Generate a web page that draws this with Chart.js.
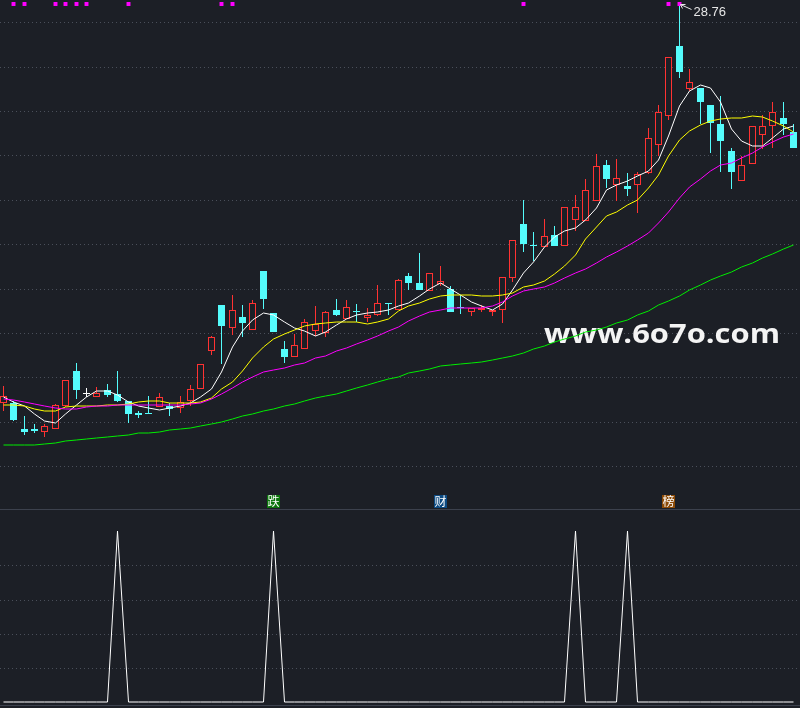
<!DOCTYPE html>
<html><head><meta charset="utf-8">
<script src="https://cdn.jsdelivr.net/npm/chart.js@4/dist/chart.umd.min.js"></script>
<style>
html,body{margin:0;padding:0;background:#1c1f26;overflow:hidden;}
#wrap{position:relative;width:800px;height:708px;background:#1c1f26;}
#c1{position:absolute;left:0;top:0;}
#c2{position:absolute;left:0;top:510px;}
.sep{position:absolute;left:0;width:800px;height:1px;background:#3c414d;}
</style></head><body>
<div id="wrap">
<canvas id="c1" width="800" height="509"></canvas>
<div class="sep" style="top:509px"></div>
<canvas id="c2" width="800" height="198"></canvas>
<div class="sep" style="top:705px"></div>
</div>
<script>
// ---------- data ----------
const opens  = [20.79,20.79,20.26,20.26,20.21,20.27,20.71,21.42,20.97,20.89,
  21.03,20.96,20.82,20.59,20.56,20.69,20.71,20.67,20.83,21.05,
  21.83,22.74,22.29,22.50,22.25,23.42,22.58,21.86,21.71,21.87,
  22.21,22.17,22.65,22.47,22.62,22.49,22.53,22.79,22.64,23.32,
  23.17,23.01,23.16,23.07,22.68,22.59,22.65,22.60,22.64,23.29,
  24.36,23.95,23.89,24.15,23.91,24.45,24.43,24.83,25.54,25.15,
  25.13,25.15,25.37,25.95,26.51,27.92,27.05,27.09,26.75,26.35,
  25.82,25.23,25.55,26.15,26.33,26.49,26.19];
const highs  = [21.12,20.82,20.52,20.36,20.35,20.76,21.24,21.58,21.08,21.10,
  21.16,21.42,20.83,20.62,20.92,20.99,20.79,20.92,21.14,21.55,
  22.12,22.74,22.94,22.74,22.84,23.42,22.58,22.02,22.16,22.47,
  22.72,22.63,22.85,22.84,22.76,22.67,23.14,22.79,23.27,23.37,
  23.79,23.39,23.52,23.13,22.94,22.67,22.75,22.64,23.31,24.04,
  24.84,24.19,24.46,24.32,24.69,24.94,25.27,25.76,25.65,25.66,
  25.37,25.39,26.29,26.74,27.69,28.76,27.47,27.09,26.75,26.92,
  25.87,25.71,26.33,26.54,26.81,26.81,26.35];
const lows   = [20.63,20.43,20.15,20.19,20.11,20.27,20.70,20.86,20.89,20.89,
  20.89,20.81,20.37,20.49,20.55,20.69,20.51,20.59,20.71,21.05,
  21.75,21.57,22.15,22.11,22.25,22.66,22.19,21.59,21.71,21.85,
  22.12,22.11,22.51,22.47,22.41,22.41,22.51,22.54,22.64,23.03,
  23.03,23.01,23.13,22.61,22.55,22.51,22.61,22.51,22.37,23.20,
  23.81,23.63,23.89,23.93,23.91,24.21,24.43,24.83,25.07,24.83,
  24.91,24.59,25.36,25.71,26.45,27.29,27.01,26.35,25.79,25.39,
  25.05,25.21,25.55,25.85,25.87,26.14,25.87];
const closes = [20.93,20.44,20.21,20.22,20.32,20.75,21.24,21.03,20.97,20.99,
  20.95,20.83,20.55,20.54,20.55,20.89,20.66,20.81,21.05,21.55,
  22.11,22.32,22.65,22.37,22.79,22.86,22.19,21.71,21.95,22.39,
  22.36,22.59,22.54,22.69,22.59,22.53,22.79,22.77,23.24,23.17,
  23.03,23.39,23.22,22.61,22.67,22.67,22.67,22.64,23.31,24.04,
  23.97,23.91,24.13,23.93,24.69,24.69,25.03,25.52,25.27,25.29,
  25.05,25.35,26.09,26.61,27.69,27.39,27.19,26.81,26.37,26.01,
  25.39,25.54,26.33,26.33,26.59,26.36,25.87];
const ma5  = [20.89,20.81,20.71,20.56,20.43,20.39,20.56,20.73,20.91,21.01,
  21.01,20.95,20.81,20.71,20.67,20.65,20.67,20.72,20.79,20.91,
  21.07,21.41,21.91,22.21,22.44,22.57,22.53,22.39,22.29,22.22,
  22.13,22.19,22.34,22.47,22.54,22.57,22.61,22.65,22.71,22.79,
  22.93,23.05,23.17,23.07,22.94,22.81,22.71,22.64,22.76,23.04,
  23.37,23.61,23.89,24.09,24.21,24.29,24.44,24.67,25.04,25.15,
  25.23,25.33,25.42,25.65,26.12,26.71,27.01,27.14,27.09,26.81,
  26.27,26.01,25.93,25.93,26.09,26.27,26.32];
const ma10 = [20.73,20.73,20.72,20.66,20.62,20.63,20.69,20.71,20.72,20.72,
  20.73,20.74,20.76,20.81,20.83,20.83,20.79,20.79,20.79,20.81,
  20.87,21.05,21.21,21.43,21.67,21.91,22.07,22.16,22.25,22.33,
  22.36,22.37,22.39,22.41,22.41,22.36,22.41,22.47,22.63,22.72,
  22.79,22.85,22.93,22.94,22.94,22.94,22.93,22.93,22.95,22.99,
  23.11,23.14,23.23,23.35,23.51,23.74,24.05,24.31,24.52,24.61,
  24.73,24.84,25.09,25.34,25.71,26.03,26.21,26.34,26.43,26.47,
  26.49,26.49,26.52,26.50,26.43,26.32,26.19];
const ma20 = [20.85,20.84,20.81,20.76,20.71,20.67,20.66,20.66,20.69,20.71,
  20.72,20.73,20.73,20.73,20.74,20.75,20.75,20.75,20.76,20.79,
  20.86,20.97,21.09,21.20,21.31,21.40,21.45,21.49,21.53,21.59,
  21.67,21.73,21.82,21.89,21.97,22.05,22.13,22.21,22.31,22.43,
  22.51,22.59,22.64,22.67,22.67,22.67,22.68,22.71,22.80,22.93,
  23.01,23.05,23.10,23.18,23.29,23.37,23.47,23.59,23.71,23.81,
  23.91,24.03,24.18,24.37,24.60,24.87,25.10,25.27,25.43,25.53,
  25.59,25.68,25.79,25.89,26.00,26.11,26.16];
const ma60 = [19.94,19.95,19.95,19.95,19.96,19.98,20.01,20.03,20.06,20.09,
  20.11,20.13,20.15,20.17,20.19,20.21,20.24,20.26,20.28,20.32,
  20.35,20.40,20.46,20.52,20.57,20.62,20.66,20.72,20.77,20.82,
  20.87,20.92,20.97,21.02,21.08,21.14,21.20,21.26,21.31,21.37,
  21.43,21.47,21.51,21.54,21.56,21.59,21.61,21.65,21.68,21.73,
  21.79,21.86,21.93,22.00,22.07,22.13,22.19,22.25,22.31,22.37,
  22.44,22.53,22.63,22.73,22.83,22.93,23.04,23.15,23.24,23.32,
  23.41,23.50,23.58,23.67,23.76,23.86,23.95];
const signalDays  = [1,2,5,6,7,8,12,21,22,50,64,65];
const signalLevel = 28.77;
const indicator = [0,0,0,0,0,0,0,0,0,0, 0,5,0,0,0,0,0,0,0,0,
  0,0,0,0,0,0,5,0,0,0, 0,0,0,0,0,0,0,0,0,0,
  0,0,0,0,0,0,0,0,0,0, 0,0,0,0,0,5,0,0,0,0,
  5,0,0,0,0,0,0,0,0,0, 0,0,0,0,0,0,0];
const tagDays  = [26,42,64];
const tagTexts = ['跌','财','榜'];
const tagLevel = 18.82;
const priceGrid = [28.396,27.508,26.62,25.732,24.844,23.956,23.068,22.18,21.292,20.404,19.516];
const subGrid = [1,2,3,4];
const watermark = 'www.6o7o.com';

// ---------- pixel-snapping scales (library linear scales, rounded to whole pixels) ----------
class SnapX extends Chart.LinearScale {
  static id = 'snapX';
  static defaults = Chart.LinearScale.defaults;
  getPixelForValue(v, i){ return Math.floor(super.getPixelForValue(v, i)) + 0.5; }
}
class SnapY extends Chart.LinearScale {
  static id = 'snapY';
  static defaults = Chart.LinearScale.defaults;
  getPixelForValue(v, i){ return Math.round(super.getPixelForValue(v, i)); }
}
Chart.register(SnapX, SnapY);

// ---------- styles ----------
const BG='#1c1f26', RED='#ff3232', CYAN='#54fcfc', GRID='#4a4f5a';
const tagColors=['#0b740b','#0c4a82','#8c4a06'];
const days = opens.map((_,i)=>i);
const dir = days.map(i=> closes[i]>opens[i]?1:(closes[i]<opens[i]?-1:0));
const lineColor = dir.map(d=> d>0?RED:(d<0?CYAN:'#ffffff'));
const fillColor = dir.map(d=> d>0?BG:(d<0?CYAN:'#ffffff'));
const XMIN=-0.317, XMAX=76.606;

function xScale(){return {type:'snapX',min:XMIN,max:XMAX,offset:false,display:false,grid:{display:false}};}
function ser(arr){return days.map(i=>({x:i,y:arr[i]}));}
function lineDs(arr,color){return {type:'line',data:ser(arr),borderColor:color,borderWidth:1,pointRadius:0,pointHoverRadius:0,tension:0,order:0};}

const annot = {
  id:'annot',
  beforeDatasetsDraw(chart){
    const ctx=chart.ctx;
    ctx.save();
    ctx.font='bold 26px "Open Sans", sans-serif';
    const w=ctx.measureText(watermark).width;
    ctx.translate(544,343);
    ctx.scale(236/w,1);
    ctx.fillStyle='#f4f4f4';
    ctx.fillText(watermark,0,0);
    ctx.restore();
  },
  afterDatasetsDraw(chart){
    const ctx=chart.ctx, xs=chart.scales.x, ys=chart.scales.y;
    ctx.save();
    const hi=Math.max(...highs), hiIdx=highs.indexOf(hi);
    const px=xs.getPixelForValue(hiIdx), py=ys.getPixelForValue(hi);
    ctx.strokeStyle='#e6e6e6'; ctx.lineWidth=1;
    ctx.beginPath();
    ctx.moveTo(px+1,py+0.5); ctx.lineTo(px+12,py+5.5);
    ctx.moveTo(px+1,py+0.5); ctx.lineTo(px+6,py+0.5);
    ctx.moveTo(px+1,py+0.5); ctx.lineTo(px+3,py+4.5);
    ctx.stroke();
    ctx.font='13px "Liberation Sans", sans-serif';
    ctx.fillStyle='#e6e6e6'; ctx.textBaseline='middle'; ctx.textAlign='left';
    ctx.fillText(hi.toFixed(2),px+14,py+8);
    ctx.font='12px "Noto Sans CJK SC"';
    ctx.textAlign='center';
    tagDays.forEach((d,k)=>{
      const x=xs.getPixelForValue(d), y=ys.getPixelForValue(tagLevel);
      ctx.fillStyle=tagColors[k];
      ctx.fillRect(Math.round(x-6.5),Math.round(y-6.5),13,13);
      ctx.fillStyle='#ffffff';
      ctx.fillText(tagTexts[k],x,y+0.5);
    });
    ctx.restore();
  }
};

new Chart(document.getElementById('c1'),{
  type:'bar',
  data:{datasets:[
    {type:'bar',data:days.map(i=>({x:i,y:[lows[i],highs[i]]})),backgroundColor:lineColor,barThickness:1,grouped:false,minBarLength:1,inflateAmount:0,order:3},
    {type:'bar',data:days.map(i=>({x:i,y:[opens[i],closes[i]]})),backgroundColor:fillColor,borderColor:lineColor,borderWidth:1,borderSkipped:false,barThickness:7,grouped:false,minBarLength:1,inflateAmount:0,order:2},
    lineDs(ma60,'#00ee00'),
    lineDs(ma20,'#ff00ff'),
    lineDs(ma10,'#ffff00'),
    lineDs(ma5,'#ffffff'),
    {type:'line',data:signalDays.map(d=>({x:d,y:signalLevel})),showLine:false,pointStyle:'rect',pointRadius:2.8,pointHoverRadius:0,pointBackgroundColor:'#ff00ff',pointBorderWidth:0,order:0}
  ]},
  options:{
    responsive:false,animation:false,events:[],
    layout:{padding:0,autoPadding:false},
    plugins:{legend:{display:false},tooltip:{enabled:false}},
    scales:{
      x:xScale(),
      y:{type:'snapY',min:18.66,max:28.84,display:true,
         afterBuildTicks:s=>{s.ticks=priceGrid.map(v=>({value:v}));},
         ticks:{display:false},
         grid:{color:GRID,drawTicks:false,lineWidth:1},
         border:{display:false,dash:[1,3]}}
    }
  },
  plugins:[annot]
});

new Chart(document.getElementById('c2'),{
  type:'line',
  data:{datasets:[{data:days.map(i=>({x:i,y:indicator[i]})),borderColor:'#ffffff',borderWidth:1,pointRadius:0,pointHoverRadius:0,tension:0}]},
  options:{
    responsive:false,animation:false,events:[],
    layout:{padding:0,autoPadding:false},
    plugins:{legend:{display:false},tooltip:{enabled:false}},
    scales:{
      x:xScale(),
      y:{type:'snapY',min:-0.166,max:5.613,display:true,
         afterBuildTicks:s=>{s.ticks=subGrid.map(v=>({value:v}));},
         ticks:{display:false},
         grid:{color:GRID,drawTicks:false,lineWidth:1},
         border:{display:false,dash:[1,3]}}
    }
  }
});
</script>
</body></html>
